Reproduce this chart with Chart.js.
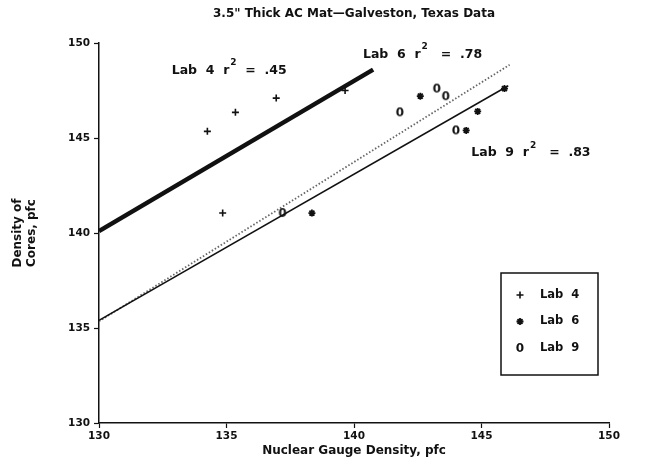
<!DOCTYPE html>
<html>
<head>
<meta charset="utf-8">
<script src="https://cdn.jsdelivr.net/npm/chart.js@4.4.1/dist/chart.umd.min.js"></script>
<style>
  html, body { margin: 0; padding: 0; background: #fff; }
  #wrap { width: 666px; height: 463px; }
</style>
</head>
<body>
<div id="wrap"><canvas id="chart"></canvas></div>
<script>
// readings (pfc)
const lab4X = [134.25, 135.35, 136.95, 134.85, 139.65];
const lab4Y = [145.35, 146.35, 147.1, 141.05, 147.5];
const lab6X = [138.35, 142.6, 144.85, 144.4, 145.9];
const lab6Y = [141.05, 147.2, 146.4, 145.4, 147.6];
const lab9X = [137.2, 141.8, 143.25, 143.6, 144.0];
const lab9Y = [141.05, 146.35, 147.6, 147.2, 145.4];

// regression lines, end points
const fit4X = [130, 140.75];
const fit4Y = [140.1, 148.6];
const fit6X = [130, 146.1];
const fit6Y = [135.35, 148.85];
const fit9X = [130, 146.05];
const fit9Y = [135.4, 147.75];

const labNames = ['Lab 4', 'Lab 6', 'Lab 9'];
const r2Values = ['.45', '.78', '.83'];

const xTicks = [130, 135, 140, 145, 150];
const yTicks = [130, 135, 140, 145, 150];

const ink = '#111';
const fontFamily = '"DejaVu Sans", sans-serif';

const pairs = (xs, ys) => xs.map((x, i) => ({ x: x, y: ys[i] }));

// the "0" marker of Lab 9 is a plain glyph in the original plot
function glyph(ch) {
    const c = document.createElement('canvas');
    c.width = 12; c.height = 14;
    const g = c.getContext('2d');
    g.fillStyle = ink;
    g.font = 'bold 12px ' + fontFamily;
    g.textAlign = 'center';
    g.textBaseline = 'middle';
    g.fillText(ch, 6, 7.5);
    return c;
}
const zeroMark = glyph('0');

// where the r² notes sit, in data units (left edge, middle)
const notePlaces = [
    { x: 132.85, y: 148.55, gap: '' },
    { x: 140.35, y: 149.4, gap: ' ' },
    { x: 144.6, y: 144.2, gap: ' ' }
];

const notesPlugin = {
    id: 'notes',
    afterDatasetsDraw(chart) {
        const { ctx, scales: { x, y } } = chart;
        ctx.save();
        ctx.fillStyle = ink;
        ctx.textBaseline = 'middle';
        ctx.textAlign = 'left';
        notePlaces.forEach((p, i) => {
            let px = x.getPixelForValue(p.x);
            const py = y.getPixelForValue(p.y);
            ctx.font = 'bold 12.5px ' + fontFamily;
            const head = labNames[i].replace(' ', '  ') + '  r';
            ctx.fillText(head, px, py);
            px += ctx.measureText(head).width + 1;
            ctx.font = 'bold 9px ' + fontFamily;
            ctx.fillText('2', px, py - 8);
            px += ctx.measureText('2').width;
            ctx.font = 'bold 12.5px ' + fontFamily;
            ctx.fillText('  ' + p.gap + '=  ' + r2Values[i], px, py);
        });
        ctx.restore();
    }
};

// boxed key in the lower right of the plot
const keyPlugin = {
    id: 'key',
    afterDraw(chart) {
        const { ctx, chartArea } = chart;
        const left = chartArea.right - 108;
        const top = chartArea.top + 230;
        ctx.save();
        ctx.strokeStyle = ink;
        ctx.lineWidth = 1.5;
        ctx.strokeRect(left, top, 97, 102);
        ctx.font = 'bold 11.5px ' + fontFamily;
        ctx.textBaseline = 'middle';
        ctx.fillStyle = ink;
        const marks = chart.data.datasets.filter(d => d.isLab);
        marks.forEach((d, i) => {
            const yy = top + 22 + i * 26.5;
            ctx.strokeStyle = ink;
            ctx.fillStyle = ink;
            ctx.lineWidth = d.borderWidth;
            Chart.helpers.drawPoint(ctx, {
                pointStyle: d.pointStyle,
                radius: d.pointRadius,
                borderWidth: d.borderWidth,
                rotation: 0
            }, left + 19, yy);
            ctx.fillText(d.label.replace(' ', '  '), left + 39, yy);
        });
        ctx.restore();
    }
};

new Chart(document.getElementById('chart'), {
    type: 'scatter',
    data: {
        datasets: [
            {
                label: 'Lab 4', isLab: true, data: pairs(lab4X, lab4Y),
                pointStyle: 'cross', pointRadius: 3.5, borderWidth: 1.6,
                borderColor: ink, backgroundColor: ink, order: 1
            },
            {
                label: 'Lab 6', isLab: true, data: pairs(lab6X, lab6Y),
                pointStyle: 'star', pointRadius: 3.5, borderWidth: 1.8,
                borderColor: ink, backgroundColor: ink, order: 1
            },
            {
                label: 'Lab 9', isLab: true, data: pairs(lab9X, lab9Y),
                pointStyle: zeroMark, pointRadius: 5, borderWidth: 1,
                borderColor: ink, backgroundColor: ink, order: 1
            },
            {
                label: 'Lab 4 fit', data: pairs(fit4X, fit4Y), showLine: true,
                pointRadius: 0, borderWidth: 4.5, borderColor: ink, order: 2
            },
            {
                label: 'Lab 9 fit', data: pairs(fit9X, fit9Y), showLine: true,
                pointRadius: 0, borderWidth: 1.5, borderColor: ink, order: 3
            },
            {
                label: 'Lab 6 fit', data: pairs(fit6X, fit6Y), showLine: true,
                pointRadius: 0, borderWidth: 1.8, borderColor: '#666',
                borderDash: [1.5, 2], order: 4
            }
        ]
    },
    options: {
        responsive: true,
        maintainAspectRatio: false,
        animation: false,
        layout: { padding: { left: 0, right: 57, top: 0, bottom: 0 } },
        plugins: {
            legend: { display: false },
            tooltip: { enabled: false },
            title: {
                display: true,
                fullSize: false,
                text: '3.5" Thick AC Mat\u2014Galveston, Texas Data',
                color: ink,
                font: { family: fontFamily, size: 12, weight: 'bold' },
                padding: { top: 7, bottom: 21.6 }
            }
        },
        scales: {
            x: {
                type: 'linear',
                min: 130, max: 150,
                afterBuildTicks: s => { s.ticks = xTicks.map(v => ({ value: v })); },
                afterFit: s => { s.height = 40; },
                border: { color: ink, width: 1.5 },
                grid: { drawOnChartArea: false, tickLength: 5, color: ink, tickWidth: 1.2 },
                ticks: {
                    color: ink, padding: 2, maxRotation: 0,
                    font: { family: fontFamily, size: 10.5, weight: 'bold' }
                },
                title: {
                    display: true,
                    text: 'Nuclear Gauge Density, pfc',
                    color: ink,
                    font: { family: fontFamily, size: 12, weight: 'bold' },
                    padding: { top: 0, bottom: 5 }
                }
            },
            y: {
                type: 'linear',
                min: 130, max: 150,
                afterBuildTicks: s => { s.ticks = yTicks.map(v => ({ value: v })); },
                afterFit: s => { s.width = 99; },
                border: { color: ink, width: 1.5 },
                grid: { drawOnChartArea: false, tickLength: 5, color: ink, tickWidth: 1.2 },
                ticks: {
                    color: ink, padding: 4,
                    font: { family: fontFamily, size: 10.5, weight: 'bold' }
                },
                title: {
                    display: true,
                    text: ['Density of', 'Cores, pfc'],
                    color: ink,
                    font: { family: fontFamily, size: 12, weight: 'bold' },
                    padding: { top: 10.5, bottom: 0 }
                }
            }
        }
    },
    plugins: [notesPlugin, keyPlugin]
});
</script>
</body>
</html>
